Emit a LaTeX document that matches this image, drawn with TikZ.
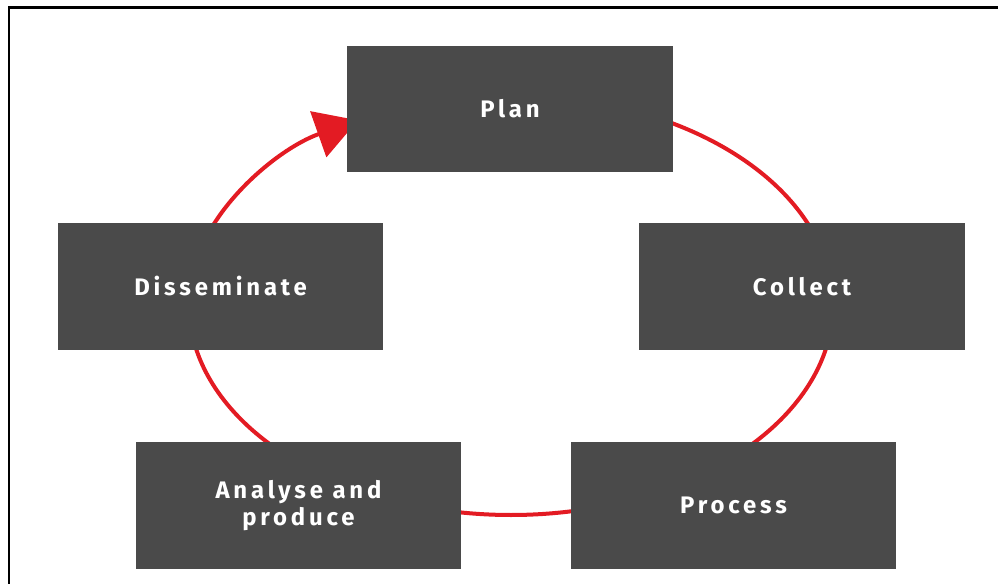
\documentclass[tikz,border=0pt]{standalone}
\usepackage{fontspec}
\newfontfamily\stagefont{Fira Sans}[LetterSpace=16]
\usetikzlibrary{arrows.meta, backgrounds}
\definecolor{boxgrey}{HTML}{4A4A4A}
\definecolor{cyclered}{HTML}{E31B23}
\tikzstyle{stage}=[rectangle, fill=boxgrey, text=white, minimum width=8.125cm, minimum height=3.15cm, align=center, font=\stagefont\bfseries\fontsize{17}{19.5}\selectfont]
\tikzstyle{cycle}=[draw=cyclered, line width=0.1cm]
\newcommand{\stage}{\node[stage]}

\begin{document}
\begin{tikzpicture}[x=0.025cm, y=-0.025cm]
\useasboundingbox (0,0) rectangle (998,584);
%frame
\draw[line width=0.06cm] (9,584) -- (9,7.5) -- (998,7.5);
%stages
\stage (plan) at (510,109){Plan};
\stage (collect) at (802,286.5){Collect};
\stage (process) at (733.5,505.5){Process};
\stage (analyse) at (298.5,505.5){Analyse and\\produce};
\stage (disseminate) at (220.5,286.5){Disseminate};
%cycle
\coordinate (hub) at (511,305);
\begin{scope}[on background layer]
\foreach \s/\e in {-66/-18, 8/46, 75/105, 134/172}{
	\draw[cycle] (hub) ++(\s:322 and 210) arc[start angle=\s, end angle=\e, x radius=322, y radius=210];}
\draw[cycle, -{Triangle[length=1.05cm, width=1.2cm]}] (hub) ++(198:322 and 210) arc[start angle=198, end angle=241.6, x radius=322, y radius=210];
\end{scope}
\end{tikzpicture}
\end{document}
